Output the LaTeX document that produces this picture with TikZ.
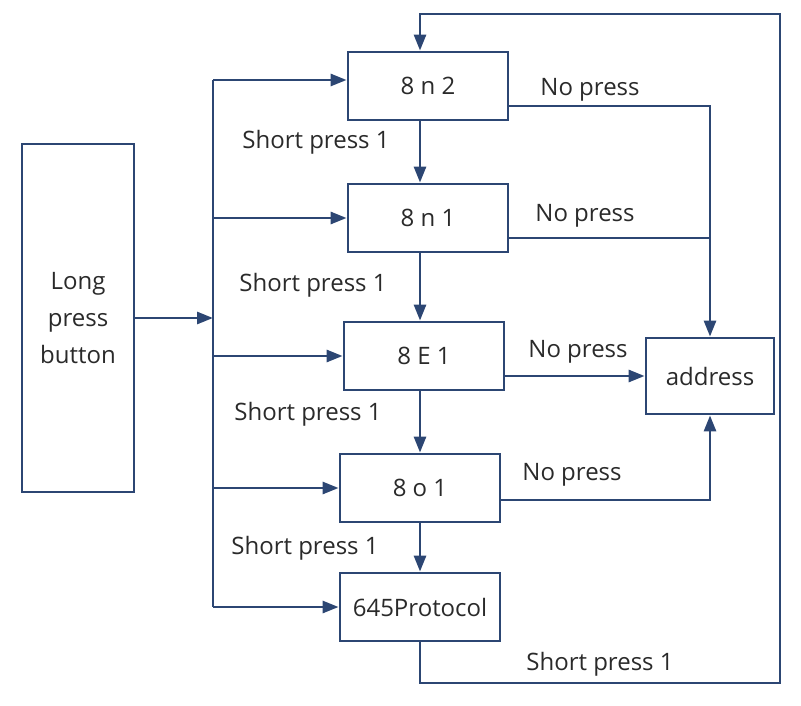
\documentclass[tikz,border=0pt]{standalone}
\usepackage{fontspec}
\setmainfont{Open Sans}
\usetikzlibrary{positioning}
\usetikzlibrary{arrows.meta}
\usepackage{xcolor}
\definecolor{navy}{HTML}{2C4673}
\definecolor{ink}{HTML}{2A2A2A}

\begin{document}
\begin{tikzpicture}[x=0.5pt, y=-0.5pt,
  line/.style={navy, line width=1.4pt},
  arr/.style={line, -{Triangle[length=8pt, width=6pt]}},
  box/.style={draw=navy, line width=1.4pt, text=ink, minimum width=80pt, minimum height=34pt, inner sep=2pt, font=\fontsize{12}{14}\selectfont},
  lbl/.style={text=ink, font=\fontsize{12}{14}\selectfont}]

\useasboundingbox (0,0) rectangle (801,705);

% boxes
{
\node[box, minimum width=56pt, minimum height=174pt, align=center, font=\fontsize{12}{18.5}\selectfont] (btn) at (78,318) {Long\\press\\button};

\node[box] (n2) at (428,86) {8 n 2};
\node[box] (n1) at (428,218) {8 n 1};
\node[box] (E1) at (424,356) {8 E 1};
\node[box] (o1) at (420,488) {8 o 1};
\node[box] (pr) at (420,607) {645Protocol};

\node[box, minimum width=64pt, minimum height=38pt] (addr) at (710,376) {address};
}

% bus
\coordinate (bt) at (213,80);
\coordinate (bb) at (213,607);
\draw[line] (bt) -- (bb);
\draw[arr] (btn.east) -- (btn.east -| bt);

\draw[arr] (bt) -- (bt -| n2.west);
\draw[arr] (bt |- n1.west) -- (n1.west);
\draw[arr] (bt |- E1.west) -- (E1.west);
\draw[arr] (bt |- o1.west) -- (o1.west);
\draw[arr] (bb) -- (pr.west);

% short press
\draw[arr] (n2.south -| o1) -- (n1.north -| o1);
\draw[arr] (n1.south -| o1) -- (E1.north -| o1);
\draw[arr] (E1.south -| o1) -- (o1.north);
\draw[arr] (o1) -- (pr);

% no press
\coordinate (n2o) at ([yshift=-10pt]n2.east);
\coordinate (n1o) at ([yshift=-10pt]n1.east);
\coordinate (o1o) at ([yshift=-6pt]o1.east);
\draw[arr] (n2o) -| (addr.north);
\draw[line] (n1o) -- (n1o -| addr.north);
\draw[arr] (E1.east |- addr.west) -- (addr.west);
\draw[arr] (o1o) -| (addr.south);

% loop back
\coordinate (ob) at (780,683);
\coordinate (ot) at (780,14);
\draw[arr] (pr.south) |- (ob) -- (ot) -| (n2.north -| o1);

% labels
{
\node[lbl] (s1) at (316,142) {Short press 1};
\node[lbl] (s2) at (313,285) {Short press 1};
\node[lbl] (s3) at (308,414) {Short press 1};
\node[lbl] (s4) at (305,548) {Short press 1};
\node[lbl] (s5) at (600,664) {Short press 1};

\node[lbl] (p1) at (590,90) {No press};
\node[lbl] (p2) at (585,216) {No press};
\node[lbl] (p3) at (578,352) {No press};
\node[lbl] (p4) at (572,475) {No press};
}

\end{tikzpicture}
\end{document}
